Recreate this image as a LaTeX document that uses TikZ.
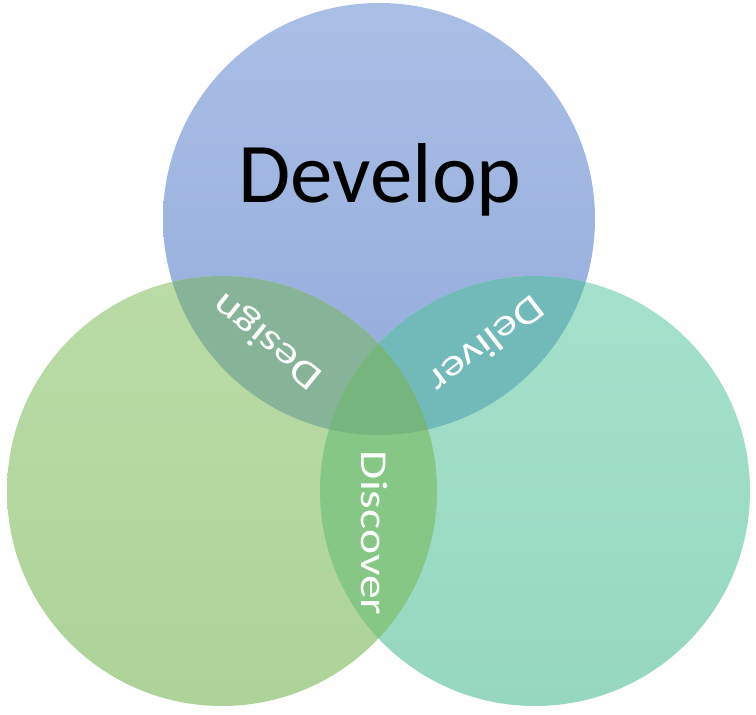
\documentclass[tikz,border=0pt]{standalone}
\usepackage{fontspec}
\setmainfont{Carlito}
\usepackage{graphicx}
\definecolor{blueTop}{HTML}{AABFE5}
\definecolor{blueBot}{HTML}{93ABDD}
\definecolor{greenTop}{HTML}{BADBA6}
\definecolor{greenBot}{HTML}{ADD399}
\definecolor{tealTop}{HTML}{A5E1CC}
\definecolor{tealBot}{HTML}{96D7BF}
\definecolor{colAB}{HTML}{87B398}
\definecolor{colAC}{HTML}{72B9B9}
\definecolor{colBC}{HTML}{86C785}
\definecolor{colABC}{HTML}{77B57F}
\tikzset{
  lbl/.style={text=white, font=\fontsize{38}{44}\selectfont, inner sep=0pt},
  big/.style={text=black, font=\fontsize{85}{100}\selectfont, inner sep=0pt}
}
\begin{document}
\begin{tikzpicture}[x=1pt,y=-1pt]
\useasboundingbox (0,0) rectangle (756,715);
\fill[white] (0,0) rectangle (756,715);
\coordinate (A) at (379,219);
\coordinate (B) at (222,491);
\coordinate (C) at (535,491);
\shade[top color=blueTop, bottom color=blueBot] (A) circle[radius=216pt];
\shade[top color=greenTop, bottom color=greenBot] (B) circle[radius=215pt];
\shade[top color=tealTop, bottom color=tealBot] (C) circle[radius=215pt];
\begin{scope}
  \clip (A) circle[radius=216pt];
  \fill[colAB] (B) circle[radius=215pt];
  \fill[colAC] (C) circle[radius=215pt];
\end{scope}
\begin{scope}
  \clip (B) circle[radius=215pt];
  \fill[colBC] (C) circle[radius=215pt];
\end{scope}
\begin{scope}
  \clip (A) circle[radius=216pt];
  \clip (B) circle[radius=215pt];
  \fill[colABC] (C) circle[radius=215pt];
\end{scope}
\node[big, anchor=base] (develop) at (380,202) {Develop};
\node[lbl, rotate=141] (design) at (268,340) {\scalebox{1.25}[1]{Design}};
\node[lbl, rotate=217.6] (deliver) at (487,345) {\scalebox{1.25}[1]{Deliver}};
\node[lbl, rotate=-90] (discover) at (374,533) {\scalebox{1.25}[1]{Discover}};
\end{tikzpicture}
\end{document}
